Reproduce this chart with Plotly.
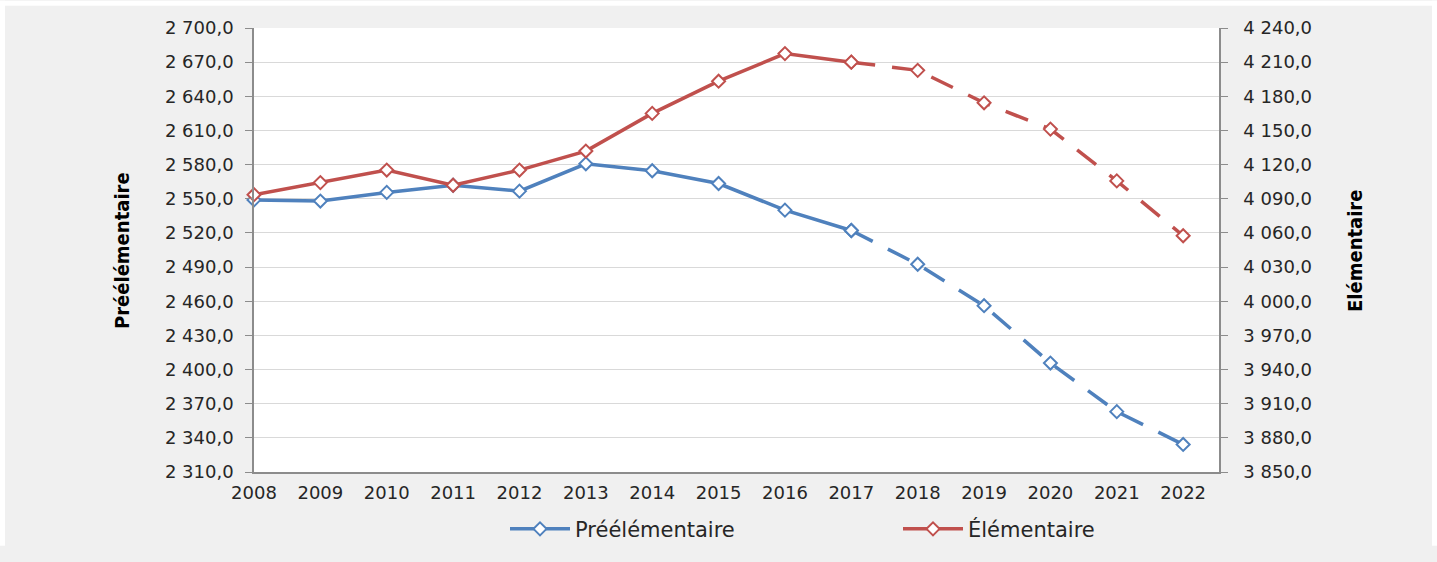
import plotly.graph_objects as go

years = [2008, 2009, 2010, 2011, 2012, 2013, 2014, 2015, 2016, 2017, 2018, 2019, 2020, 2021, 2022]
pre_elem = [2549, 2548, 2555.6, 2561.9, 2556.7, 2580.7, 2574.6, 2563.4, 2540, 2522.1,
            2492.5, 2456.1, 2405.7, 2363, 2334.2]
elem = [4093.6, 4104.2, 4115.2, 4101.9, 4115.2, 4131.9, 4165, 4193.3, 4217.5, 4210,
        4202.8, 4174.3, 4151.2, 4105.7, 4057.5]
last_obs = 9  # index of 2017, projection afterwards

blue = "#4F81BD"
red = "#C0504D"
tick_font = dict(family="DejaVu Sans", size=18, color="#262626")

W, H = 1437, 562
L, R, T, B = 254, 218, 28, 76
pw, ph = W - L - R, H - T - B


def px(x):
    return (x - L) / pw


def py(y):
    return (H - B - y) / ph


fig = go.Figure()


def add_series(vals, name, color, axis):
    mk = dict(symbol="diamond", size=10, color="white", line=dict(color=color, width=2))
    fig.add_trace(go.Scatter(x=years[:last_obs + 1], y=vals[:last_obs + 1], mode="lines+markers",
                             name=name, line=dict(color=color, width=3.5), marker=mk,
                             yaxis=axis, legendgroup=name, cliponaxis=False))
    fig.add_trace(go.Scatter(x=years[last_obs:], y=vals[last_obs:], mode="lines+markers",
                             name=name, line=dict(color=color, width=3.5, dash="24px,17px"),
                             marker=mk, yaxis=axis, legendgroup=name, showlegend=False,
                             cliponaxis=False))


add_series(pre_elem, "Préélémentaire", blue, "y")
add_series(elem, "Élémentaire", red, "y2")

fig.update_layout(
    width=W, height=H,
    margin=dict(l=L, r=R, t=T, b=B),
    paper_bgcolor="#f0f0f0",
    plot_bgcolor="white",
    separators=", ",
    xaxis=dict(range=[2008, 2022.54], tickvals=years, showgrid=False, zeroline=False,
               showline=True, linecolor="#8c8c8c", linewidth=1.5, ticks="",
               tickfont=tick_font, ticklabelstandoff=4),
    yaxis=dict(range=[2310, 2700], tick0=2310, dtick=30, tickformat=",.1f",
               showgrid=True, gridcolor="#d9d9d9", gridwidth=1, zeroline=False,
               showline=True, linecolor="#8c8c8c", linewidth=1.5,
               ticks="outside", ticklen=7, tickcolor="#8c8c8c",
               tickfont=tick_font, ticklabelstandoff=8),
    yaxis2=dict(range=[3850, 4240], tick0=3850, dtick=30, tickformat=",.1f",
                overlaying="y", side="right", showgrid=False, zeroline=False,
                showline=True, linecolor="#8c8c8c", linewidth=1.5,
                ticks="outside", ticklen=7, tickcolor="#8c8c8c",
                tickfont=tick_font, ticklabelstandoff=12),
    legend=dict(orientation="h", x=px(505), xanchor="left", y=py(545), yanchor="middle",
                font=dict(family="DejaVu Sans", size=21, color="#262626"),
                bgcolor="rgba(0,0,0,0)", itemwidth=60, entrywidth=318),
    showlegend=True,
)

title_font = dict(family="Liberation Sans Narrow, DejaVu Sans Condensed, Arial Narrow, sans-serif",
                  size=20, color="black")
fig.add_annotation(text="<b>Préélémentaire</b>", xref="paper", yref="paper",
                   x=px(122), y=py(258), textangle=-90, showarrow=False, font=title_font,
                   xanchor="center", yanchor="middle")
fig.add_annotation(text="<b>Elémentaire</b>", xref="paper", yref="paper",
                   x=px(1355), y=py(258), textangle=-90, showarrow=False, font=title_font,
                   xanchor="center", yanchor="middle")

# white border strips (top, left, right) like the exported picture
for x0, x1, y0, y1 in [(0, W, 0, 5), (0, 5, 0, H), (W - 5, W, 0, H)]:
    fig.add_shape(type="rect", xref="paper", yref="paper",
                  x0=px(x0), x1=px(x1), y0=py(y1), y1=py(y0),
                  line=dict(width=0), fillcolor="white", layer="above")

fig.write_html("out.html", config={"displayModeBar": False},
               post_script="document.body.style.margin='0';"
                           "document.body.style.background='linear-gradient(to right, white 5px, #f0f0f0 5px, #f0f0f0 1432px, white 1432px)';"
                           "document.documentElement.style.overflow='hidden';"
                           "document.body.style.overflow='hidden';")
